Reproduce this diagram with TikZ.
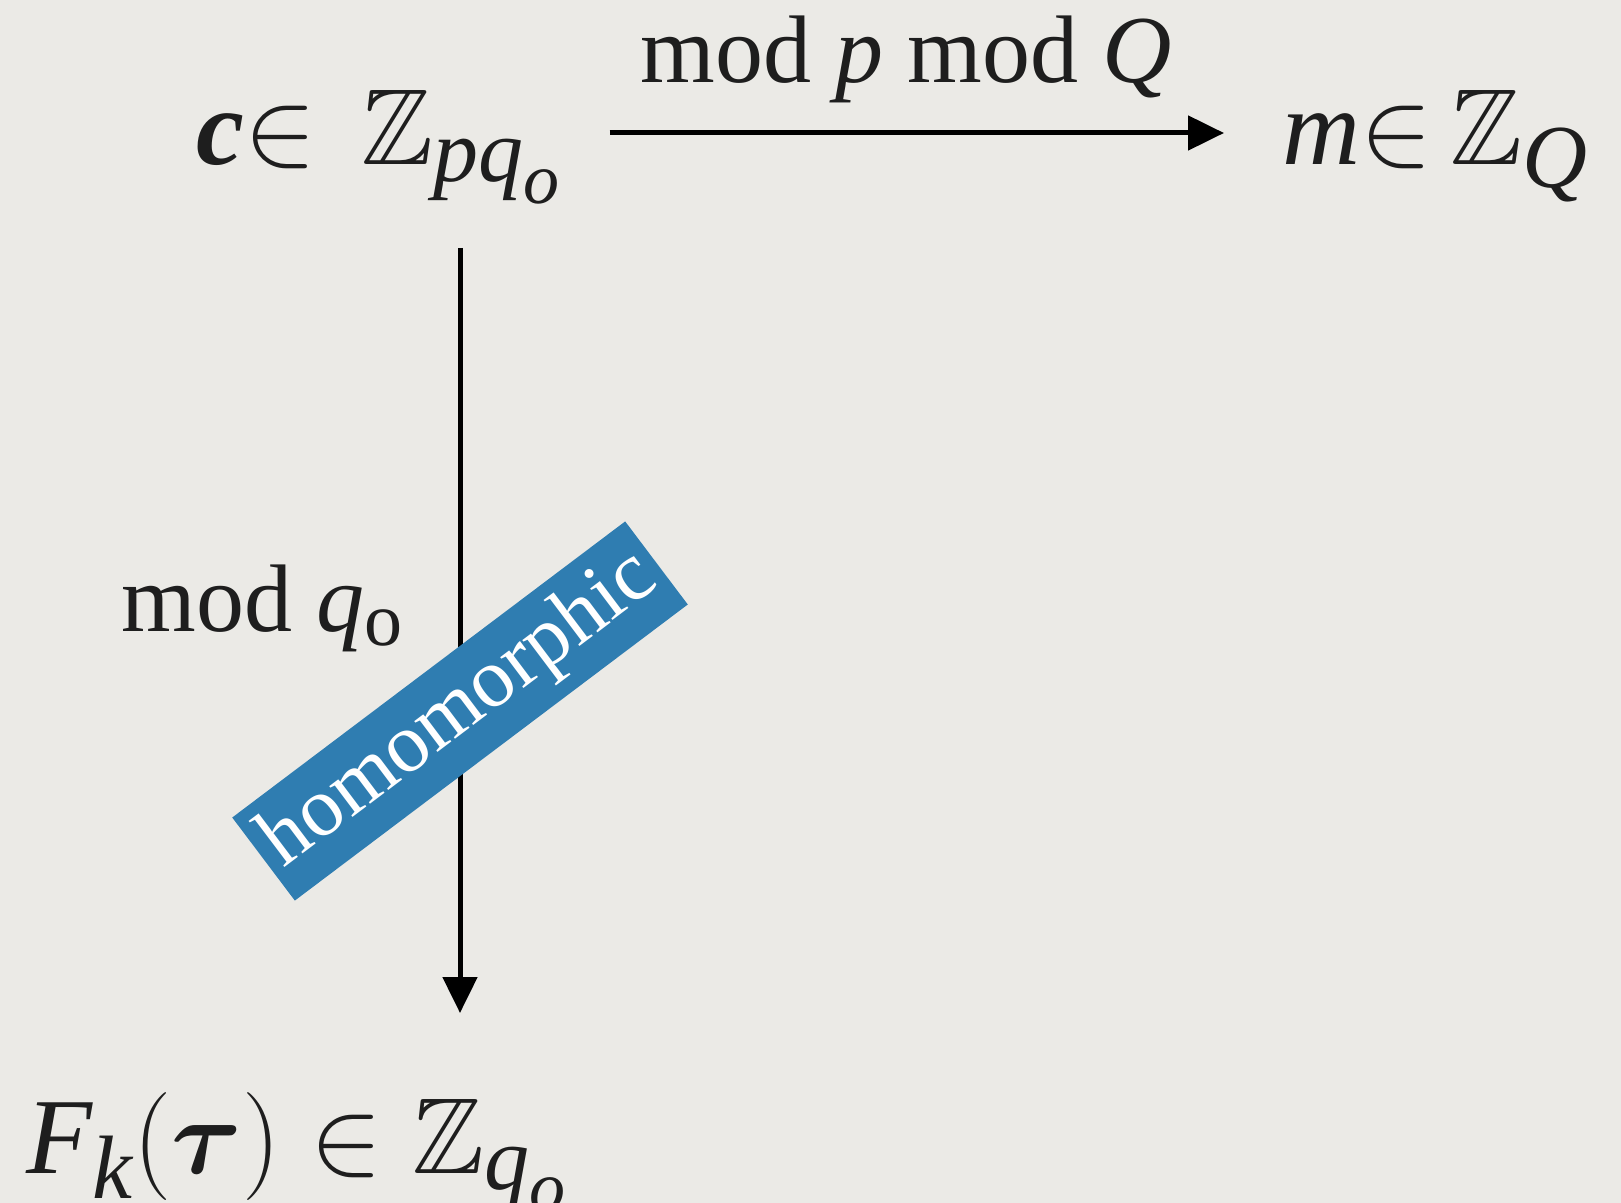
\RequirePackage{fix-cm}
\documentclass[tikz,border=0pt]{standalone}
\usepackage{amsmath,amssymb}
\usepackage{fontspec}
\setmainfont{Liberation Serif}
\usetikzlibrary{arrows.meta}
\DeclareMathSizes{54}{54}{45}{36}
\DeclareMathSizes{48}{48}{38}{30}
\definecolor{paper}{HTML}{EBEAE6}
\definecolor{ink}{HTML}{1E1E1E}
\definecolor{tagblue}{HTML}{2F7DB1}
\tikzset{
  setlbl/.style={anchor=base west, inner sep=0pt, text=ink, font=\fontsize{54}{64}\selectfont},
  maplbl/.style={inner sep=0pt, text=ink, font=\fontsize{48}{58}\selectfont},
  maparrow/.style={-{Triangle[length=18pt,width=17pt]}, line width=2.5pt, draw=black},
  tag/.style={fill=tagblue, text=white, rotate=37, minimum width=246pt, minimum height=52pt,
    inner sep=0pt, font=\fontsize{42}{50}\selectfont}
}
\begin{document}
\begin{tikzpicture}[x=0.5pt,y=-0.5pt]
	\fill[paper] (0,0) rectangle (1621,1203);
	\useasboundingbox (0,0) rectangle (1621,1203);
	
	% the three sets
	\node[setlbl] (ring) at (196,165) {\textbf{\textit{c}}$\in$\ \,$\mathbb{Z}_{\textit{pq}_{\textit{o}}}$};
	\node[setlbl] (plain) at (1282,165) {\textit{m}$\in$\,$\mathbb{Z}_{\textit{Q}}$};
	\node[setlbl] (eval) at (26,1173) {$\textit{F}_{\textit{k}}(\boldsymbol{\tau})\in\mathbb{Z}_{\textit{q}_{\textit{o}}}$};
	
	% decryption
	\draw[maparrow, shorten <=24pt, shorten >=29pt] ([yshift=16pt]ring.base east) -- ([yshift=16pt]plain.base west);
	\node[maplbl, anchor=base] (decq) at (906,83) {mod \textit{p} mod \textit{Q}};
	
	% reduction
	\coordinate (src) at (460,248);
	\coordinate (dst) at (460,1013);
	\draw[maparrow] (src) -- (dst);
	\node[maplbl, anchor=base west] (redq) at (121,631) {mod \textit{q}$_{\mathrm{o}}$};
	
	\node[tag] (homo) at (460,711) {homomorphic};
\end{tikzpicture}
\end{document}
